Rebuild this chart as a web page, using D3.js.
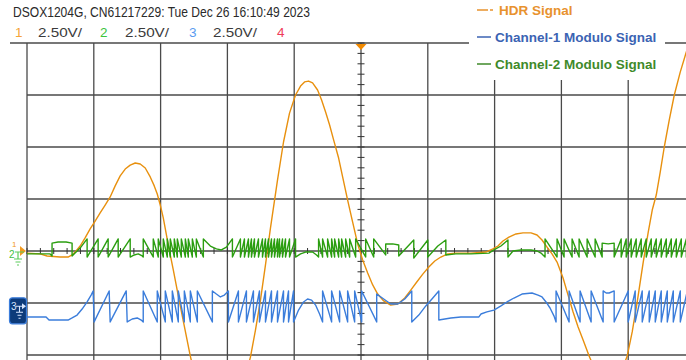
<!DOCTYPE html>
<html>
<head>
<meta charset="utf-8">
<script src="https://cdn.jsdelivr.net/npm/d3@7"></script>
<style>
  body { margin: 0; background: #fff; }
  svg { display: block; }
</style>
</head>
<body>
<script>
// time in µs (100 µs / div), voltage in V (2.50 V / div)
const timeDivs = [0, 100, 200, 300, 400, 500, 600, 700, 800, 900, 1000];
const voltDivs = [10, 7.5, 5, 2.5, 0, -2.5, -5, -7.5, -10];

const headerText = "DSOX1204G, CN61217229: Tue Dec 26 16:10:49 2023";
const channelNames = ["1", "2", "3", "4"];
const channelScales = ["2.50V/", "2.50V/", "2.50V/", ""];
const legendLabels = ["HDR Signal", "Channel-1 Modulo Signal", "Channel-2 Modulo Signal"];

// [time, volts]
const hdrSignal = [
  [0,-0.10],[19.5,-0.14],[30,-0.24],[49.5,-0.29],[61.5,-0.29],[67.5,-0.19],[73.5,0],[79.5,0.24],
  [87,0.63],[94.5,1.06],[102,1.44],[109.5,1.83],[117,2.21],[124.5,2.60],[132,3.13],[139.5,3.61],
  [147,3.94],[154.5,4.13],[162,4.23],[169.5,4.18],[177,3.99],[184.5,3.56],[190.5,3.13],[195,2.74],
  [199.5,2.21],[204,1.59],[211.5,0.29],[219,-0.91],[226.5,-2.16],[235.5,-3.61],[244.5,-5.05],
  [253.5,-6.30],[264,-7.16],[274.5,-7.69],[283.5,-7.98],[292.5,-8.08],[301.5,-7.93],[310.5,-7.50],
  [319.5,-6.78],[327,-6.01],[334.5,-5.10],[342,-3.80],[349.5,-2.36],[357,-0.67],[364.5,1.11],
  [375,3.41],[384,5.24],[393,6.63],[402,7.50],[409.5,7.93],[415.5,8.13],[421.5,8.17],[427.5,8.08],
  [435,7.74],[441,7.26],[447,6.68],[453,6.06],[459,5.34],[466.5,4.47],[472.5,3.56],[480,2.45],
  [487.5,1.39],[495,0.34],[502.5,-0.43],[510,-1.06],[517.5,-1.63],[525,-2.07],[534,-2.40],
  [544.5,-2.60],[555,-2.55],[565.5,-2.26],[574.5,-1.88],[583.5,-1.49],[592.5,-1.11],[601.5,-0.77],
  [610.5,-0.48],[619.5,-0.29],[630,-0.14],[642,-0.10],[664.5,-0.10],[687,-0.05],[697.5,0.10],
  [705,0.24],[712.5,0.48],[721.5,0.67],[732,0.82],[742.5,0.87],[754.5,0.87],[763.5,0.77],[771,0.53],
  [778.5,0.19],[786,-0.14],[793.5,-0.53],[802.5,-1.30],[810,-2.12],[817.5,-2.93],[825,-3.65],
  [832.5,-4.28],[841.5,-5.05],[850.5,-5.72],[859.5,-6.20],[870,-6.49],[879,-6.35],[889.5,-5.82],
  [898.5,-5.05],[906,-3.89],[913.5,-2.45],[922.5,-0.53],[930,0.91],[936,1.97],[942,2.69],[948,3.80],
  [954,5.00],[961.5,6.30],[969,7.50],[978,8.61],[987,9.57],[994.5,10.24]
];

const ch1Modulo = [
  [0,-3.17],[28.5,-3.17],[33,-3.32],[61.5,-3.32],[67.5,-3.22],[75,-3.08],[82.5,-2.79],[90,-2.45],
  [96,-2.12],[99,-1.92],[100.5,-3.41],[123,-1.92],[124.5,-3.41],[148.5,-1.92],[150,-3.41],
  [157.5,-3.27],[165,-3.22],[171,-3.32],[174,-3.41],[174,-1.92],
  [195,-3.41],[195,-1.92],[207,-3.41],[207,-1.92],[217.5,-3.41],[217.5,-1.92],[226.5,-3.41],[226.5,-1.92],
  [235.5,-3.41],[235.5,-1.92],[244.5,-3.41],[244.5,-1.92],[255,-3.41],[255,-1.92],[277.5,-3.41],[277.5,-1.92],
  [283.5,-2.07],[289.5,-2.21],[295.5,-2.12],[301.5,-1.92],[301.5,-3.41],
  [316.5,-1.92],[316.5,-3.41],[328.5,-1.92],[328.5,-3.41],[339,-1.92],[339,-3.41],[348,-1.92],[348,-3.41],
  [357,-1.92],[357,-3.41],[366,-1.92],[366,-3.41],[375,-1.92],[375,-3.41],[384,-1.92],[384,-3.41],
  [391.5,-1.92],[391.5,-3.41],[399,-1.92],[399,-3.41],
  [406.5,-2.84],[414,-2.45],[420,-2.31],[426,-2.36],[432,-2.60],[438,-3.03],[442.5,-3.41],[442.5,-1.92],
  [456,-3.41],[456,-1.92],[468,-3.41],[468,-1.92],[480,-3.41],[480,-1.92],[490.5,-3.41],[490.5,-1.92],
  [501,-3.41],[501,-1.92],
  [523.5,-3.41],[523.5,-2.07],[534,-2.31],[544.5,-2.55],[555,-2.55],[565.5,-2.31],[576,-1.92],[576,-3.41],
  [586.5,-3.08],[597,-2.64],[607.5,-2.26],[616.5,-1.92],[616.5,-3.32],[625.5,-3.27],[634.5,-3.22],
  [649.5,-3.17],[676.5,-3.17],[679.5,-3.03],[688.5,-2.93],[699,-2.84],[709.5,-2.64],[718.5,-2.45],
  [729,-2.26],[741,-2.07],[756,-2.02],[765,-2.12],[771,-2.21],[777,-2.45],[783,-2.74],[789,-3.13],
  [792,-3.41],[792,-1.92],
  [811.5,-3.41],[811.5,-1.92],[828,-3.41],[828,-1.92],[844.5,-3.41],[844.5,-1.92],[862.5,-3.41],[862.5,-1.92],
  [867,-2.02],[871.5,-2.02],[879,-1.92],[879,-3.41],
  [900,-1.92],[900,-3.41],[910.5,-1.92],[910.5,-3.41],[921,-1.92],[921,-3.41],[931.5,-1.92],[931.5,-3.41],
  [940.5,-1.92],[940.5,-3.41],[949.5,-1.92],[949.5,-3.41],[958.5,-1.92],[958.5,-3.41],[967.5,-1.92],[967.5,-3.41],
  [978,-1.92],[978,-3.41],[988.5,-1.92],[988.5,-3.41],[995,-2.6]
];

const ch2Modulo = [
  [0,-0.14],[34.5,-0.14],[37.5,-0.24],[37.5,0.38],[46.5,0.43],[58.5,0.43],[67.5,0.38],[67.5,-0.24],
  [73.5,-0.05],[79.5,0.14],[90,0.58],[90,-0.29],
  [106.5,0.58],[106.5,-0.29],[121.5,0.58],[121.5,-0.29],[136.5,0.58],[136.5,-0.29],[154.5,0.58],[154.5,-0.29],
  [160.5,-0.19],[166.5,-0.14],[172.5,-0.24],[174,-0.29],[174,0.58],
  [189,-0.29],[189,0.58],[196.5,-0.29],[196.5,0.58],[204,-0.29],[204,0.58],[210,-0.29],[210,0.58],
  [214.5,-0.29],[214.5,0.58],[220.5,-0.29],[220.5,0.58],[225,-0.29],[225,0.58],[231,-0.29],[231,0.58],
  [237,-0.29],[237,0.58],[241.5,-0.29],[241.5,0.58],[247.5,-0.29],[247.5,0.58],[253.5,-0.29],[253.5,0.58],
  [264,-0.29],[264,0.58],
  [274.5,0.24],[283.5,0.10],[291,0.05],[298.5,0.19],[307.5,0.58],[307.5,-0.29],
  [319.5,0.58],[319.5,-0.29],[325.5,0.58],[325.5,-0.29],[331.5,0.58],[331.5,-0.29],[336,0.58],[336,-0.29],
  [340.5,0.58],[340.5,-0.29],[346.5,0.58],[346.5,-0.29],[352.5,0.58],[352.5,-0.29],[357,0.58],[357,-0.29],
  [361.5,0.58],[361.5,-0.29],[366,0.58],[366,-0.29],[370.5,0.58],[370.5,-0.29],[375,0.58],[375,-0.29],
  [378,0.58],[378,-0.29],[382.5,0.58],[382.5,-0.29],[387,0.58],[387,-0.29],[393,0.58],[393,-0.29],
  [402,0.58],[402,-0.29],
  [409.5,-0.14],[417,-0.05],[427.5,-0.05],[433.5,-0.19],[436.5,-0.29],[436.5,0.58],
  [442.5,-0.29],[442.5,0.58],[450,-0.29],[450,0.58],[456,-0.29],[456,0.58],[460.5,-0.29],[460.5,0.58],
  [466.5,-0.29],[466.5,0.58],[471,-0.29],[471,0.58],[477,-0.29],[477,0.58],[483,-0.29],[483,0.58],
  [492,-0.29],[492,0.58],[507,-0.29],[507,0.58],[519,-0.29],[519,0.58],
  [537,-0.19],[537,0.34],[547.5,0.34],[556.5,0.29],[556.5,-0.24],[579,0.53],[579,-0.34],[600,0.53],
  [600,-0.29],[615,0.24],[627,0.53],[627,-0.19],[642,-0.14],[664.5,-0.14],[691.5,-0.10],[699,0.05],
  [709.5,0.24],[720,0.53],[720,-0.29],[727.5,0],[739.5,0.05],[754.5,0.05],[763.5,0],[769.5,-0.10],
  [775.5,-0.29],[775.5,0.58],
  [793.5,-0.29],[793.5,0.58],[804,-0.29],[804,0.58],[816,-0.29],[816,0.58],[826.5,-0.29],[826.5,0.58],
  [838.5,-0.29],[838.5,0.58],[850.5,-0.29],[850.5,0.58],[861,-0.29],[861,0.38],
  [870,0.34],[879,0.38],[879,-0.29],
  [889.5,0.58],[889.5,-0.29],[897,0.58],[897,-0.29],[904.5,0.58],[904.5,-0.29],[912,0.58],[912,-0.29],
  [919.5,0.58],[919.5,-0.29],[927,0.58],[927,-0.29],[934.5,0.58],[934.5,-0.29],[942,0.58],[942,-0.29],
  [949.5,0.58],[949.5,-0.29],[957,0.58],[957,-0.29],[964.5,0.58],[964.5,-0.29],[972,0.58],[972,-0.29],
  [979.5,0.58],[979.5,-0.29],[987,0.58],[987,-0.29],[995,0.2]
];

const W = 686, H = 360;
const orange = "#e8900e", blue = "#3b7ddb", green = "#2b9e10", gridCol = "#4a4a4a";

const svg = d3.select("body").append("svg")
  .attr("width", W).attr("height", H);
svg.append("rect").attr("width", W).attr("height", H).attr("fill", "#fff");

const x = d3.scaleLinear().domain([0, 1000]).range([27, 695]);
const y = d3.scaleLinear().domain([-10, 10]).range([459, 43]);

// grid
const grid = svg.append("g").attr("stroke", gridCol).attr("stroke-width", 1.3);
grid.selectAll(".vl").data(timeDivs).join("line")
  .attr("x1", d => x(d)).attr("x2", d => x(d))
  .attr("y1", y(10)).attr("y2", H);
grid.selectAll(".hl").data(voltDivs.filter(d => d < 10)).join("line")
  .attr("x1", x(0)).attr("x2", W)
  .attr("y1", d => y(d)).attr("y2", d => y(d));
grid.append("line").attr("x1", 10).attr("x2", W).attr("y1", y(10)).attr("y2", y(10));

// small ticks on the centre axes
const ticks = svg.append("g").attr("stroke", "#333").attr("stroke-width", 1);
ticks.selectAll(".vt").data(d3.range(-10, 10.01, 0.5)).join("line")
  .attr("x1", x(500) - 3.5).attr("x2", x(500) + 3.5)
  .attr("y1", d => y(d)).attr("y2", d => y(d));
ticks.selectAll(".ht").data(d3.range(0, 1001, 20)).join("line")
  .attr("x1", d => x(d)).attr("x2", d => x(d))
  .attr("y1", y(0) - 3).attr("y2", y(0) + 3);

// legend box hides the grid behind it
svg.append("rect").attr("x", 469).attr("y", 0).attr("width", 196).attr("height", 80).attr("fill", "#fff");

// traces
const line = d3.line().x(d => x(d[0])).y(d => y(d[1]));
const traces = [[hdrSignal, orange], [ch1Modulo, blue], [ch2Modulo, green]];
traces.forEach(([data, col]) => {
  svg.append("path").datum(data)
    .attr("d", line)
    .attr("fill", "none")
    .attr("stroke", col)
    .attr("stroke-width", 1.4)
    .attr("stroke-linejoin", "round");
});

// trigger marker
const tx = x(500), ty = y(10);
svg.append("path")
  .attr("d", `M${tx - 5.5},${ty + 1}L${tx + 5.5},${ty + 1}L${tx},${ty + 7}Z`)
  .attr("fill", "#f28a00");

// channel ground markers on the left
const g12 = svg.append("g");
g12.append("path").attr("d", `M20,${y(0) - 5}L26,${y(0)}L20,${y(0) + 5}Z`).attr("fill", "#f29a20");
g12.append("text").attr("x", 12).attr("y", y(0) - 4).attr("font-size", 8)
  .attr("font-family", "Liberation Sans, Arial, sans-serif").attr("fill", "#f29a20").text("1");
g12.append("text").attr("x", 9).attr("y", y(0) + 7).attr("font-size", 10)
  .attr("font-family", "Liberation Sans, Arial, sans-serif").attr("fill", "#3fbf3f").text("2");
g12.append("path")
  .attr("d", `M15,${y(0) + 1}H24M18,${y(0) + 1}V${y(0) + 8}M14,${y(0) + 8}H22M15.5,${y(0) + 11}H20.5M17,${y(0) + 14}H19`)
  .attr("stroke", "#5ccc5c").attr("stroke-width", 1.2).attr("fill", "none");

const m3 = y(-2.85);
const g3 = svg.append("g");
g3.append("rect").attr("x", 9.5).attr("y", m3 - 12.5).attr("width", 17).attr("height", 26).attr("rx", 3)
  .attr("fill", "#0c3b7a").attr("stroke", "#3b7ddb").attr("stroke-width", 1.2);
g3.append("text").attr("x", 11).attr("y", m3 + 0).attr("font-size", 10)
  .attr("font-family", "Liberation Sans, Arial, sans-serif").attr("fill", "#d6e6ff").text("3");
g3.append("path")
  .attr("d", `M16,${m3 - 4}H25M19.5,${m3 - 4}V${m3 + 2}M16,${m3 + 2}H23M17.5,${m3 + 5}H21.5M18.5,${m3 + 8}H20.5`)
  .attr("stroke", "#d6e6ff").attr("stroke-width", 1.1).attr("fill", "none");
g3.append("path").attr("d", `M22,${m3 - 7}L26,${m3 - 4}L22,${m3 - 1}Z`).attr("fill", "#d6e6ff");

// header
svg.append("text").attr("x", 13).attr("y", 17)
  .attr("font-family", "Liberation Sans Narrow, Arial Narrow, Liberation Sans, sans-serif")
  .attr("font-size", 14.5).attr("fill", "#2a2a2a")
  .attr("textLength", 297).attr("lengthAdjust", "spacingAndGlyphs")
  .text(headerText);

const chanCols = ["#f5a33a", "#3cc43c", "#5b9bf0", "#ef3b5a"];
const chanX = [15, 100, 189, 277];
const scaleX = [38, 125, 213];
channelNames.forEach((c, i) => {
  svg.append("text").attr("x", chanX[i]).attr("y", 37)
    .attr("font-family", "Liberation Sans, Arial, sans-serif").attr("font-size", 13.5)
    .attr("fill", chanCols[i]).text(c);
  if (channelScales[i]) {
    svg.append("text").attr("x", scaleX[i]).attr("y", 37)
      .attr("font-family", "Liberation Sans, Arial, sans-serif").attr("font-size", 13.5)
      .attr("fill", "#3a3a3a")
      .attr("textLength", 44).attr("lengthAdjust", "spacingAndGlyphs")
      .text(channelScales[i]);
  }
});

// legend
const legCols = ["#e8922e", "#3b63b3", "#3f8a2a"];
const legY = [15, 42, 69];
const legX = [499, 495, 495];
legendLabels.forEach((lab, i) => {
  svg.append("line").attr("x1", 477).attr("x2", i === 0 ? 494 : 491)
    .attr("y1", legY[i] - 5).attr("y2", legY[i] - 5)
    .attr("stroke", legCols[i]).attr("stroke-width", 1.5)
    .attr("stroke-dasharray", i === 0 ? "11,2,3" : null);
  svg.append("text").attr("x", legX[i]).attr("y", legY[i])
    .attr("font-family", "Liberation Sans, Arial, Helvetica, sans-serif")
    .attr("font-size", 13.5).attr("font-weight", "bold")
    .attr("fill", legCols[i]).text(lab);
});
</script>
</body>
</html>
